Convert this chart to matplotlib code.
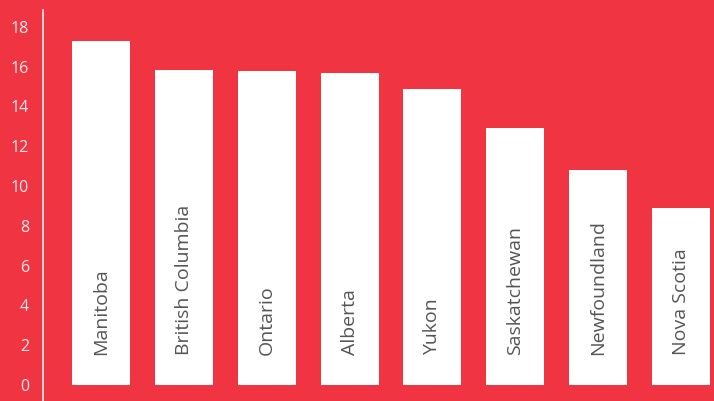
import matplotlib.pyplot as plt

provinces = ['Manitoba', 'British Columbia', 'Ontario', 'Alberta',
             'Yukon', 'Saskatchewan', 'Newfoundland', 'Nova Scotia']
values = [17.3, 15.85, 15.8, 15.7, 14.9, 12.9, 10.8, 8.9]
y_ticks = [0, 2, 4, 6, 8, 10, 12, 14, 16, 18]

red = '#F03442'

fig = plt.figure(figsize=[7.14, 4.01], dpi=100)
fig.patch.set_facecolor(red)
ax = fig.add_axes([43 / 714, 0, 1 - 43 / 714, 1])
ax.set_facecolor(red)

x = list(range(len(provinces)))
ax.bar(x, values, width=0.7, color='white', zorder=2)
for i, name in enumerate(provinces):
    ax.text(
        i,
        1.5,
        name,
        rotation=90,
        ha='center',
        va='bottom',
        color='#555555',
        fontsize=14,
        family='Open Sans',
        zorder=3)

ax.set_xlim(-0.7, 7.4)
ax.set_ylim(-0.8, 19.35)
ax.set_xticks([])
ax.set_yticks(y_ticks)
ax.set_yticklabels([str(t) for t in y_ticks], family='Open Sans')
ax.tick_params(axis='y', length=0, pad=10, labelsize=11.5, labelcolor='#FCEBEC')
for side in ['top', 'right', 'bottom']:
    ax.spines[side].set_visible(False)
ax.spines['left'].set_color('#FCEBEC')
ax.spines['left'].set_linewidth(1.2)
ax.spines['left'].set_bounds(-0.8, 18.85)

plt.savefig('out.png', facecolor=red)
